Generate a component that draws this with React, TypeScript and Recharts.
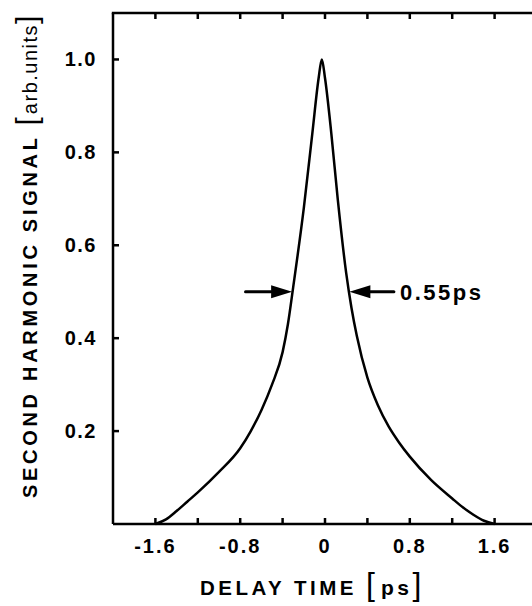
import { LineChart, Line, XAxis, YAxis, ReferenceLine } from "recharts";

// delay time (ps) and normalised second harmonic signal
const delay = [
  -1.6, -1.5, -1.4, -1.3, -1.2, -1.0, -0.8, -0.7, -0.6, -0.5, -0.4, -0.35, -0.3, -0.2, -0.12, -0.06, -0.03,
  0.0, 0.06, 0.12, 0.2, 0.25, 0.3, 0.4, 0.5, 0.6, 0.7, 0.8, 1.0, 1.2, 1.3, 1.4, 1.5, 1.6,
];
const signal = [
  0.0, 0.01, 0.028, 0.048, 0.068, 0.112, 0.163, 0.2, 0.245, 0.3, 0.37, 0.43, 0.51, 0.68, 0.84, 0.96, 1.0,
  0.96, 0.84, 0.7, 0.54, 0.465, 0.405, 0.315, 0.255, 0.21, 0.175, 0.145, 0.095, 0.055, 0.036, 0.02, 0.007, 0.0,
];

const xMin = -2;
const xMax = 2;
const yTop = 1.1;
const xTicks = [-1.6, -1.2, -0.8, -0.4, 0, 0.4, 0.8, 1.2, 1.6];
const xLabels = ["-1.6", "", "-0.8", "", "0", "", "0.8", "", "1.6"];
const yTicks = [0.2, 0.4, 0.6, 0.8, 1.0];

// FWHM markers: arrow tails and tips at half maximum
const halfLevel = 0.5;
const leftArrow = [-0.75, -0.31];
const rightArrow = [0.65, 0.23];
const fwhmText = "0.55ps";

const data = delay.map((t, i) => ({ t, s: signal[i] }));

const FONT = "'Liberation Sans', Arial, Helvetica, sans-serif";
const INK = "#000";
const TICK = 6;

const BottomTick = (props: any) => {
  const { x, y, index } = props;
  return (
    <text x={x} y={y + 29} textAnchor="middle" fontFamily={FONT} fontWeight="bold" fontSize={20} letterSpacing={2} fill={INK}>
      {xLabels[index]}
    </text>
  );
};

const LeftTick = (props: any) => {
  const { x, y, payload } = props;
  return (
    <text x={x - 16} y={y + 7} textAnchor="end" fontFamily={FONT} fontWeight="bold" fontSize={20} letterSpacing={1.5} fill={INK}>
      {Number(payload.value).toFixed(1)}
    </text>
  );
};

const XTitle = (props: any) => {
  const { viewBox } = props;
  const sx = viewBox.x + 87;
  const by = viewBox.y + 71;
  return (
    <text x={sx} y={by} textAnchor="start" fontFamily={FONT} fill={INK}>
      <tspan fontWeight="bold" fontSize={20.5} letterSpacing={3.5}>DELAY TIME </tspan>
      <tspan fontSize={32} letterSpacing={6}>[</tspan>
      <tspan fontWeight="bold" fontSize={21} letterSpacing={3.5}>ps</tspan>
      <tspan fontSize={32}>]</tspan>
    </text>
  );
};

const YTitle = () => {
  const bx = 37;
  const by = 498;
  return (
    <text x={bx} y={by} textAnchor="start" fontFamily={FONT} fill={INK} transform={`rotate(-90, ${bx}, ${by})`}>
      <tspan fontWeight="bold" fontSize={20} letterSpacing={3.7}>SECOND HARMONIC SIGNAL </tspan>
      <tspan fontSize={30} letterSpacing={3}>[</tspan>
      <tspan fontSize={20} letterSpacing={1.5}>arb.units</tspan>
      <tspan fontSize={30}>]</tspan>
    </text>
  );
};

const Arrow = (props: any) => {
  const { x1, y1, x2, y2, withText } = props;
  const dir = x2 > x1 ? 1 : -1;
  const head = 21;
  const hw = 6.5;
  return (
    <g>
      <line x1={x1} y1={y1} x2={x2 - dir * head} y2={y2} stroke={INK} strokeWidth={3} strokeLinecap="round" />
      <polygon points={`${x2},${y2} ${x2 - dir * head},${y2 - hw} ${x2 - dir * head},${y2 + hw}`} fill={INK} />
      {withText && (
        <text x={x1 + 6} y={y1 + 8} fontFamily={FONT} fontWeight="bold" fontSize={22} letterSpacing={2.5} fill={INK}>
          {fwhmText}
        </text>
      )}
    </g>
  );
};

// top border and inward tick marks, placed from the scaled positions of the
// first and last labelled ticks (the segment endpoints handed in by recharts)
const t0 = xTicks[0];
const t1 = xTicks[xTicks.length - 1];
const v0 = yTicks[0];
const v1 = yTicks[yTicks.length - 1];

const Frame = (props: any) => {
  const { x1, y1, x2, y2 } = props;
  const px = (t: number) => x1 + ((t - t0) * (x2 - x1)) / (t1 - t0);
  const py = (v: number) => y1 + ((v - v0) * (y2 - y1)) / (v1 - v0);
  const top = py(yTop);
  const bottom = py(0);
  const left = px(xMin);
  return (
    <g>
      <line x1={left - 1.2} y1={top} x2={px(xMax) + 2} y2={top} stroke={INK} strokeWidth={2.5} />
      {xTicks.map((t) => (
        <g key={`xt${t}`}>
          <line x1={px(t)} y1={bottom} x2={px(t)} y2={bottom - TICK} stroke={INK} strokeWidth={2.5} />
          <line x1={px(t)} y1={top} x2={px(t)} y2={top + TICK} stroke={INK} strokeWidth={2.5} />
        </g>
      ))}
      {yTicks.map((v) => (
        <line key={`yt${v}`} x1={left} y1={py(v)} x2={left + TICK} y2={py(v)} stroke={INK} strokeWidth={2.5} />
      ))}
    </g>
  );
};

export default function App() {
  return (
    <div style={{ width: 532, height: 606, overflow: "hidden", background: "#fff" }}>
      <style>{"body{margin:0;overflow:hidden;background:#fff}"}</style>
      <LineChart width={560} height={606} data={data} margin={{ top: 13, right: 23, bottom: 0, left: 0 }}>
        <XAxis
          dataKey="t"
          type="number"
          domain={[xMin, xMax]}
          ticks={xTicks}
          interval={0}
          height={82}
          tickSize={0}
          tickMargin={0}
          tickLine={false}
          axisLine={{ stroke: INK, strokeWidth: 2.5 }}
          tick={<BottomTick />}
          label={<XTitle />}
        />
        <YAxis
          type="number"
          domain={[0, yTop]}
          ticks={yTicks}
          interval={0}
          width={113}
          tickSize={0}
          tickMargin={0}
          tickLine={false}
          axisLine={{ stroke: INK, strokeWidth: 2.5 }}
          tick={<LeftTick />}
          label={<YTitle />}
        />
        <ReferenceLine
          segment={[{ x: leftArrow[0], y: halfLevel }, { x: leftArrow[1], y: halfLevel }]}
          shape={(p: any) => <Arrow {...p} />}
          ifOverflow="visible"
        />
        <ReferenceLine
          segment={[{ x: rightArrow[0], y: halfLevel }, { x: rightArrow[1], y: halfLevel }]}
          shape={(p: any) => <Arrow {...p} withText />}
          ifOverflow="visible"
        />
        <ReferenceLine
          segment={[{ x: t0, y: v0 }, { x: t1, y: v1 }]}
          shape={(p: any) => <Frame {...p} />}
          ifOverflow="visible"
        />
        <Line
          type="monotone"
          dataKey="s"
          stroke={INK}
          strokeWidth={2.5}
          dot={false}
          isAnimationActive={false}
        />
      </LineChart>
    </div>
  );
}
